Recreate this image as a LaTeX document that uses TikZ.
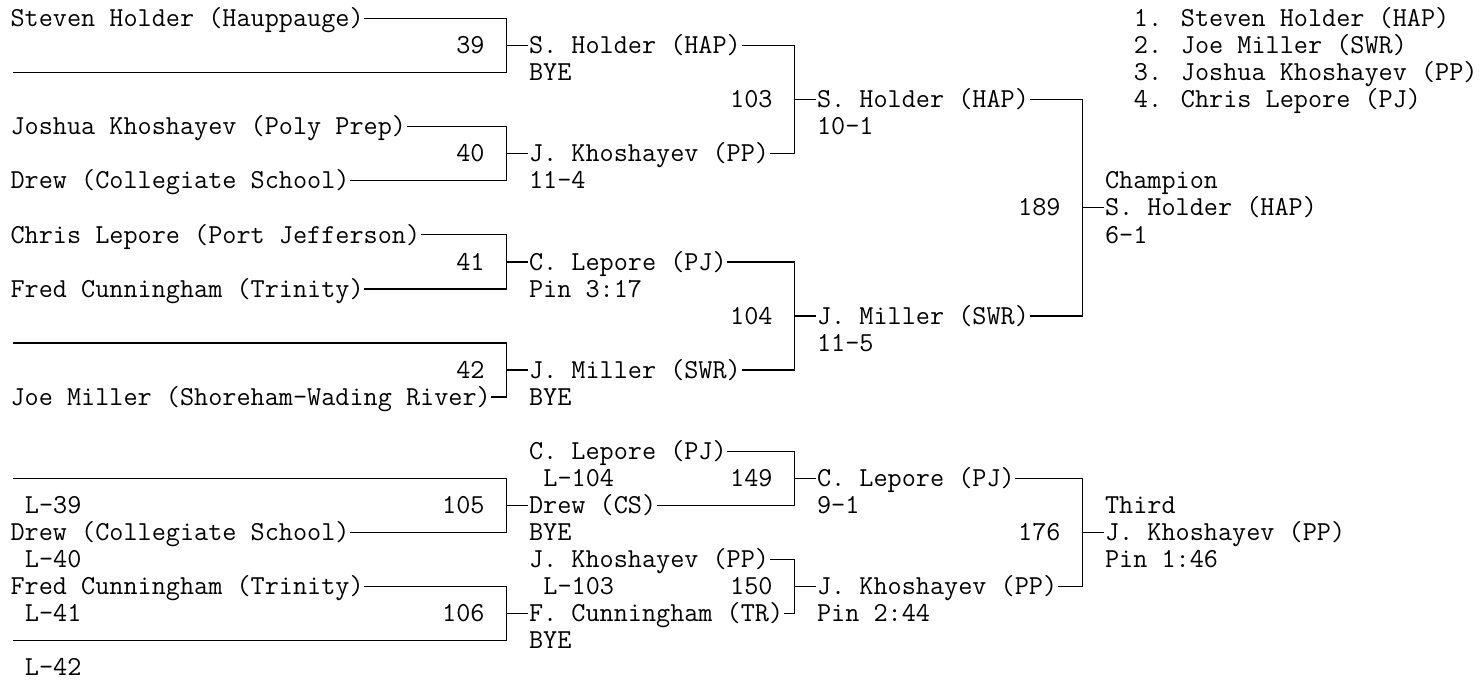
\documentclass[tikz,border=0pt]{standalone}
\usepackage{fontspec}
\usepackage{tikz}
\newcommand{\bout}[4]{\draw (#1.east) -| (#2) |- (#3.east); \draw (#2) -- (#4.west);}

\begin{document}
\begin{tikzpicture}[x=7.2pt,y=-13.525pt,line width=0.65pt,
    every node/.style={anchor=west,inner sep=0pt,text height=8.2pt,text depth=0pt,
      font=\fontsize{13.71pt}{13.71pt}\selectfont\ttfamily}]
    \useasboundingbox (-0.69,-0.68) rectangle (102.15,24.46);

    % first round
    \node (p1) at (0,0) {Steven Holder (Hauppauge)};
    \node (p2) at (0,2) {};
    \node (p3) at (0,4) {Joshua Khoshayev (Poly Prep)};
    \node (p4) at (0,6) {Drew (Collegiate School)};
    \node (p5) at (0,8) {Chris Lepore (Port Jefferson)};
    \node (p6) at (0,10) {Fred Cunningham (Trinity)};
    \node (p7) at (0,12) {};
    \node (p8) at (0,14) {Joe Miller (Shoreham-Wading River)};

    \begin{scope}[every node/.append style={anchor=east}]
      \node (n39) at (33,1) {39};
      \node (n40) at (33,5) {40};
      \node (n41) at (33,9) {41};
      \node (n42) at (33,13) {42};
      \node (n103) at (53,3) {103};
      \node (n104) at (53,11) {104};
      \node (n189) at (73,7) {189};
      \node (n105) at (33,18) {105};
      \node (n106) at (33,22) {106};
      \node (n149) at (53,17) {149};
      \node (n150) at (53,21) {150};
      \node (n176) at (73,19) {176};
    \end{scope}

    \node (w39) at (36,1) {S. Holder (HAP)};
    \node (r39) at (36,2) {BYE};
    \node (w40) at (36,5) {J. Khoshayev (PP)};
    \node (r40) at (36,6) {11-4};
    \node (w41) at (36,9) {C. Lepore (PJ)};
    \node (r41) at (36,10) {Pin 3:17};
    \node (w42) at (36,13) {J. Miller (SWR)};
    \node (r42) at (36,14) {BYE};

    \node (w103) at (56,3) {S. Holder (HAP)};
    \node (r103) at (56,4) {10-1};
    \node (w104) at (56,11) {J. Miller (SWR)};
    \node (r104) at (56,12) {11-5};

    \node (t189) at (76,6) {Champion};
    \node (w189) at (76,7) {S. Holder (HAP)};
    \node (r189) at (76,8) {6-1};

    \node (pl1) at (78,0) {1. Steven Holder (HAP)};
    \node (pl2) at (78,1) {2. Joe Miller (SWR)};
    \node (pl3) at (78,2) {3. Joshua Khoshayev (PP)};
    \node (pl4) at (78,3) {4. Chris Lepore (PJ)};

    % consolation
    \node (q1) at (0,17) {};
    \node (l39) at (1,18) {L-39};
    \node (q2) at (0,19) {Drew (Collegiate School)};
    \node (l40) at (1,20) {L-40};
    \node (q3) at (0,21) {Fred Cunningham (Trinity)};
    \node (l41) at (1,22) {L-41};
    \node (q4) at (0,23) {};
    \node (l42) at (1,24) {L-42};

    \node (w105) at (36,18) {Drew (CS)};
    \node (r105) at (36,19) {BYE};
    \node (w106) at (36,22) {F. Cunningham (TR)};
    \node (r106) at (36,23) {BYE};

    \node (c149) at (36,16) {C. Lepore (PJ)};
    \node (l104) at (37,17) {L-104};
    \node (c150) at (36,20) {J. Khoshayev (PP)};
    \node (l103) at (37,21) {L-103};

    \node (w149) at (56,17) {C. Lepore (PJ)};
    \node (r149) at (56,18) {9-1};
    \node (w150) at (56,21) {J. Khoshayev (PP)};
    \node (r150) at (56,22) {Pin 2:44};

    \node (t176) at (76,18) {Third};
    \node (w176) at (76,19) {J. Khoshayev (PP)};
    \node (r176) at (76,20) {Pin 1:46};

    \coordinate (b39) at (34.5,1);
    \coordinate (b40) at (34.5,5);
    \coordinate (b41) at (34.5,9);
    \coordinate (b42) at (34.5,13);
    \coordinate (b103) at (54.5,3);
    \coordinate (b104) at (54.5,11);
    \coordinate (b189) at (74.5,7);
    \coordinate (b105) at (34.5,18);
    \coordinate (b106) at (34.5,22);
    \coordinate (b149) at (54.5,17);
    \coordinate (b150) at (54.5,21);
    \coordinate (b176) at (74.5,19);

    \bout{p1}{b39}{p2}{w39}
    \bout{p3}{b40}{p4}{w40}
    \bout{p5}{b41}{p6}{w41}
    \bout{p7}{b42}{p8}{w42}
    \bout{w39}{b103}{w40}{w103}
    \bout{w41}{b104}{w42}{w104}
    \bout{w103}{b189}{w104}{w189}
    \bout{q1}{b105}{q2}{w105}
    \bout{q3}{b106}{q4}{w106}
    \bout{c149}{b149}{w105}{w149}
    \bout{c150}{b150}{w106}{w150}
    \bout{w149}{b176}{w150}{w176}
\end{tikzpicture}
\end{document}
